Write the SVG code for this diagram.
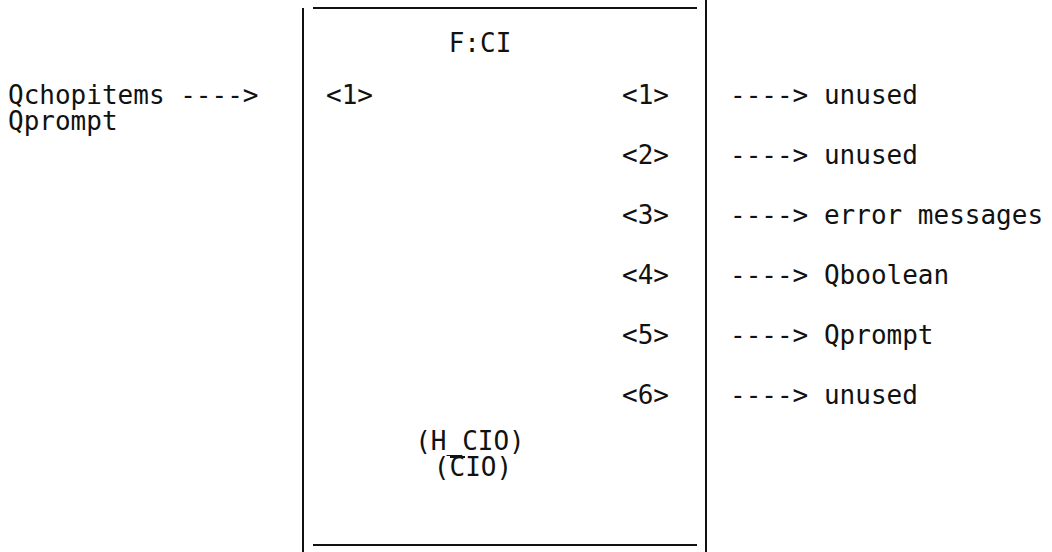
<svg xmlns="http://www.w3.org/2000/svg" width="1052" height="552" viewBox="0 0 1052 552">
<style>
text{font-family:"DejaVu Sans Mono","Liberation Mono",monospace;font-size:26px;fill:#111}
.ln{stroke:#111;stroke-width:2;fill:none}
</style>
<rect width="1052" height="552" fill="#fff"/>
<g id="box">
<line class="ln" x1="303" y1="8" x2="303" y2="552"/>
<line class="ln" x1="706" y1="0" x2="706" y2="552"/>
<line class="ln" x1="313" y1="8" x2="697" y2="8"/>
<line class="ln" x1="313" y1="545" x2="697" y2="545"/>
<text x="480" y="52" text-anchor="middle">F:CI</text>
<text x="326" y="104">&lt;1&gt;</text>
<text x="622" y="104">&lt;1&gt;</text>
<text x="622" y="164">&lt;2&gt;</text>
<text x="622" y="224">&lt;3&gt;</text>
<text x="622" y="284">&lt;4&gt;</text>
<text x="622" y="344">&lt;5&gt;</text>
<text x="622" y="404">&lt;6&gt;</text>
<text x="470" y="450" text-anchor="middle">(H_CIO)</text>
<text x="473" y="476" text-anchor="middle">(CIO)</text>
<line class="ln" x1="450" y1="457" x2="465" y2="457"/>
</g>
<g id="inputs">
<text x="8" y="104">Qchopitems ----&gt;</text>
<text x="8" y="130">Qprompt</text>
</g>
<g id="outputs">
<text x="730" y="104">----&gt; unused</text>
<text x="730" y="164">----&gt; unused</text>
<text x="730" y="224">----&gt; error messages</text>
<text x="730" y="284">----&gt; Qboolean</text>
<text x="730" y="344">----&gt; Qprompt</text>
<text x="730" y="404">----&gt; unused</text>
</g>
</svg>
